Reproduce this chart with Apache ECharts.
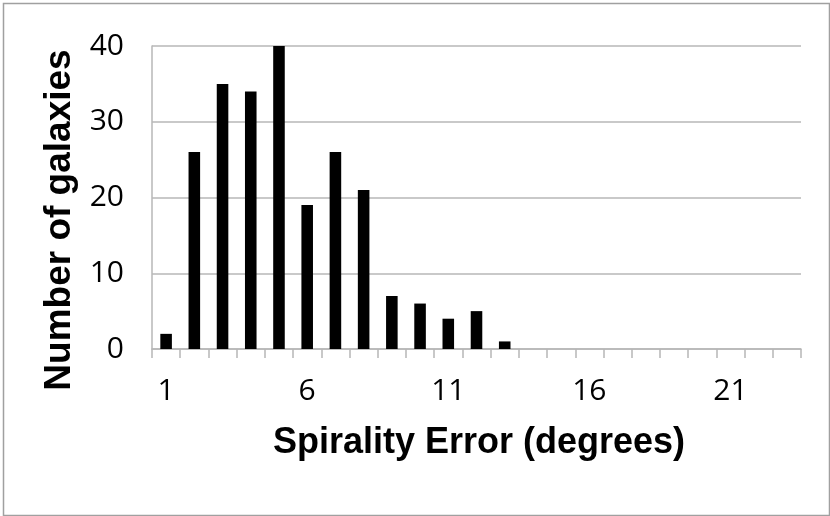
<!DOCTYPE html>
<html>
<head>
<meta charset="utf-8">
<script src="https://cdn.jsdelivr.net/npm/echarts@6/dist/echarts.min.js"></script>
<style>
html,body{margin:0;padding:0;background:#fff;}
#c{width:830px;height:516px;}
</style>
</head>
<body>
<div id="c"></div>
<script>
const categories = ['1','2','3','4','5','6','7','8','9','10','11','12','13','14','15','16','17','18','19','20','21','22','23'];
const counts = [2, 26, 35, 34, 40, 19, 26, 21, 7, 6, 4, 5, 1, 0, 0, 0, 0, 0, 0, 0, 0, 0, 0];
const yTicks = [0, 10, 20, 30, 40];
const xTitle = 'Spirality Error (degrees)';
const yTitle = 'Number of galaxies';

const chart = echarts.init(document.getElementById('c'), null, {renderer: 'canvas'});
const gray = '#b7b7b7';
chart.setOption({
  animation: false,
  backgroundColor: '#fff',
  grid: {left: 152, right: 29, top: 46, bottom: 167, containLabel: false},
  xAxis: {
    type: 'category',
    data: categories,
    boundaryGap: true,
    axisLine: {show: true, lineStyle: {color: gray, width: 1.5}},
    axisTick: {show: true, interval: 0, length: 9, lineStyle: {color: gray, width: 1.5}},
    axisLabel: {interval: 4, margin: 27, fontFamily: 'Open Sans', fontSize: 30, color: '#000'},
    splitLine: {show: false}
  },
  yAxis: {
    type: 'value',
    min: yTicks[0],
    max: yTicks[yTicks.length - 1],
    interval: 10,
    axisLine: {show: true, lineStyle: {color: gray, width: 1.5}},
    axisTick: {show: false},
    axisLabel: {margin: 28, fontFamily: 'Open Sans', fontSize: 30, color: '#000', verticalAlign: 'middle', padding: [6, 0, 0, 0]},
    splitLine: {show: true, lineStyle: {color: gray, width: 1.5}}
  },
  series: [{
    type: 'bar',
    data: counts,
    barWidth: '41%',
    itemStyle: {color: '#000'}
  }],
  graphic: [
    {type: 'rect', left: 1, top: 1, silent: true,
     shape: {x: 0, y: 0, width: 826, height: 512},
     style: {fill: 'none', stroke: '#a0a0a0', lineWidth: 1.5}},
    {type: 'text', x: 479, y: 443, silent: true,
     style: {text: xTitle, font: 'bold 36px "Liberation Sans Narrow", "Arial Narrow", sans-serif', fill: '#000', textAlign: 'center', textVerticalAlign: 'middle'}},
    {type: 'text', x: 60, y: 220, rotation: Math.PI / 2, silent: true,
     style: {text: yTitle, font: 'bold 37px "Liberation Sans", Arial, sans-serif', fill: '#000', textAlign: 'center', textVerticalAlign: 'middle'}}
  ]
});
</script>
</body>
</html>
